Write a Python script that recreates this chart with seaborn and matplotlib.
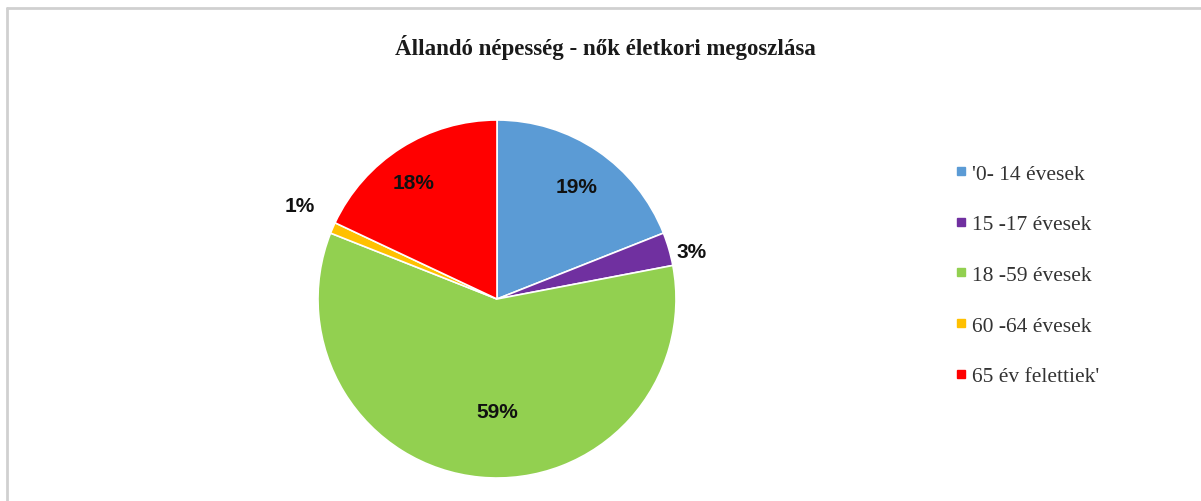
import numpy as np
import matplotlib
matplotlib.use("Agg")
import matplotlib.pyplot as plt
import seaborn as sns
from matplotlib.lines import Line2D

sns.set_theme(style="white")
plt.rcParams['font.family'] = ['DejaVu Sans']

categories = ["'0- 14 évesek", "15 -17 évesek", "18 -59 évesek", "60 -64 évesek", "65 év felettiek'"]
values = [19, 3, 59, 1, 18]
labels = ["19%", "3%", "59%", "1%", "18%"]
colors = ["#5B9BD5", "#7030A0", "#92D050", "#FFC000", "#FF0000"]
label_dist = [0.77, 1.12, 0.63, 1.22, 0.80]
label_rot = [-1.0, -2.6, 5.4, -1.9, 3.2]
title = "Állandó népesség - nők életkori megoszlása"

W, H = 1201, 502
fig = plt.figure(figsize=(W / 100, H / 100), dpi=100)
fig.patch.set_facecolor("white")

cx, cy, r = 497, 300, 179
ax = fig.add_axes([(cx - r) / W, (H - cy - r) / H, 2 * r / W, 2 * r / H])
wedges, _ = ax.pie(values, colors=colors, startangle=90, counterclock=False,
                   radius=1, wedgeprops=dict(edgecolor="white", linewidth=1.2))
ax.set_xlim(-1, 1)
ax.set_ylim(-1, 1)
ax.set_aspect("auto")
ax.axis("off")

for w, lab, d, rot in zip(wedges, labels, label_dist, label_rot):
    ang = np.deg2rad((w.theta1 + w.theta2) / 2 + rot)
    ax.text(d * np.cos(ang), d * np.sin(ang), lab, ha="center", va="center",
            fontsize=15, fontweight="bold", color="#111111",
            family=["Liberation Sans", "DejaVu Sans"], clip_on=False)

fig.text(605 / W, 1 - 47 / H, title, ha="center", va="center",
         fontsize=16.5, fontweight="bold", family=["Liberation Serif"],
         color="#1a1a1a")

handles = [Line2D([0], [0], marker="s", color="none", markerfacecolor=c,
                  markeredgecolor=c, markersize=6) for c in colors]
leg = fig.legend(handles, categories, loc="upper left",
                 bbox_to_anchor=(946 / W, 1 - 156 / H), frameon=False,
                 prop=dict(family="Liberation Serif", size=15.5),
                 labelspacing=1.42, handlelength=0.6, handletextpad=0.2,
                 borderaxespad=0)
for t in leg.get_texts():
    t.set_color("#333333")

# chart area border (top and left edges visible)
fig.add_artist(Line2D([6.5 / W, 6.5 / W], [0, 1 - 8.5 / H], transform=fig.transFigure,
                      color="#d0d0d0", linewidth=2))
fig.add_artist(Line2D([6.5 / W, 1], [1 - 8.5 / H, 1 - 8.5 / H], transform=fig.transFigure,
                      color="#d0d0d0", linewidth=2))

fig.savefig("out.png", dpi=100, facecolor="white")
